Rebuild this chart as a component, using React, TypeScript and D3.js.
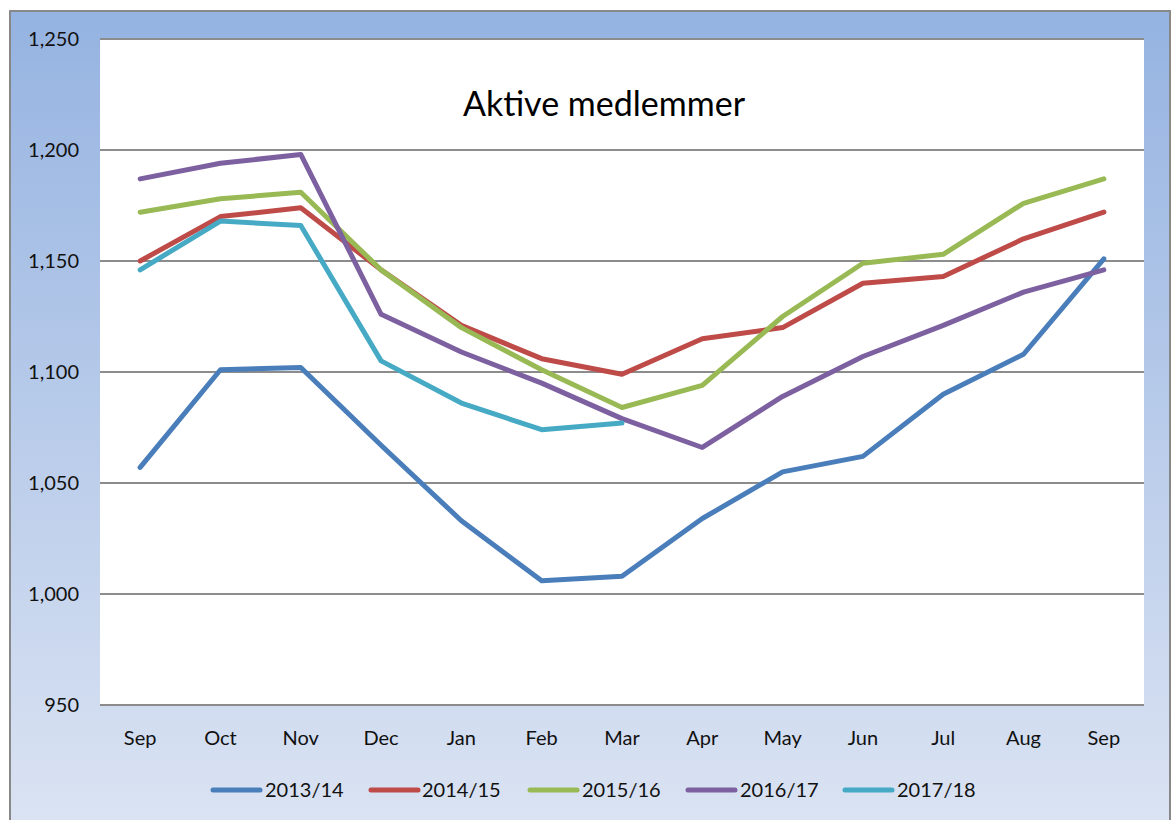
import React from "react";
import * as d3 from "d3";

const months = ["Sep", "Oct", "Nov", "Dec", "Jan", "Feb", "Mar", "Apr", "May", "Jun", "Jul", "Aug", "Sep"];
const monthKeys = months.map((m, i) => `${m}-${i}`);
const seriesNames = ["2013/14", "2014/15", "2015/16", "2016/17", "2017/18"];
const seriesColors = ["#4A7EBB", "#BE4B48", "#98B954", "#7D60A0", "#46AAC5"];
const s2013: number[] = [1057, 1101, 1102, 1067, 1033, 1006, 1008, 1034, 1055, 1062, 1090, 1108, 1151];
const s2014: number[] = [1150, 1170, 1174, 1146, 1121, 1106, 1099, 1115, 1120, 1140, 1143, 1160, 1172];
const s2015: number[] = [1172, 1178, 1181, 1146, 1120, 1101, 1084, 1094, 1125, 1149, 1153, 1176, 1187];
const s2016: number[] = [1187, 1194, 1198, 1126, 1109, 1095, 1079, 1066, 1089, 1107, 1121, 1136, 1146];
const s2017: number[] = [1146, 1168, 1166, 1105, 1086, 1074, 1077];
const seriesValues = [s2013, s2014, s2015, s2016, s2017];
const yTicks = [950, 1000, 1050, 1100, 1150, 1200, 1250];

const W = 1171, H = 820;
const plot = { left: 100, right: 1144, top: 39, bottom: 705 };
const FONT = "Lato, 'Open Sans', sans-serif";

export default function App() {
  const x = d3.scaleBand<string>().domain(monthKeys).range([plot.left, plot.right]);
  const y = d3.scaleLinear().domain([950, 1250]).range([plot.bottom, plot.top]);
  const line = d3
    .line<number>()
    .x((_, i) => (x(monthKeys[i]) as number) + x.bandwidth() / 2)
    .y((d) => y(d));
  const fmt = d3.format(",");

  const legendItems = [
    { lx: 213, tx: 265 },
    { lx: 371, tx: 422 },
    { lx: 530, tx: 582 },
    { lx: 688, tx: 740 },
    { lx: 845, tx: 897 },
  ];

  return (
    <div style={{ position: "fixed", left: 0, top: 0 }}>
      <svg width={W} height={H} style={{ display: "block" }}>
        <defs>
          <linearGradient id="bg" x1="0" y1="0" x2="0" y2="1">
            <stop offset="0" stopColor="#95B3E1" />
            <stop offset="1" stopColor="#DCE4F3" />
          </linearGradient>
        </defs>
        <rect x={0} y={0} width={W} height={H} fill="#fff" />
        <rect x={10} y={11} width={1160} height={830} fill="url(#bg)" stroke="#888" strokeWidth={2} />
        <rect x={plot.left} y={plot.top} width={plot.right - plot.left} height={plot.bottom - plot.top} fill="#fff" />
        {yTicks.map((t) => (
          <g key={t}>
            <line x1={plot.left} x2={plot.right} y1={y(t)} y2={y(t)} stroke="#8c8c8c" strokeWidth={2} />
            <text x={79} y={y(t)} dy="0.35em" textAnchor="end" fontFamily={FONT} fontSize={20} fill="#111">
              {fmt(t)}
            </text>
          </g>
        ))}
        {monthKeys.map((k, i) => (
          <text
            key={k}
            x={(x(k) as number) + x.bandwidth() / 2}
            y={745}
            textAnchor="middle"
            fontFamily={FONT}
            fontSize={20}
            fill="#111"
          >
            {months[i]}
          </text>
        ))}
        <text x={604} y={116} textAnchor="middle" fontFamily={FONT} fontSize={34} fill="#000">
          Aktive medlemmer
        </text>
        {seriesValues.map((vals, si) => (
          <path
            key={seriesNames[si]}
            d={line(vals) || ""}
            fill="none"
            stroke={seriesColors[si]}
            strokeWidth={5}
            strokeLinejoin="round"
            strokeLinecap="round"
          />
        ))}
        {seriesNames.map((n, i) => (
          <g key={n}>
            <line
              x1={legendItems[i].lx}
              x2={legendItems[i].lx + 47}
              y1={790}
              y2={790}
              stroke={seriesColors[i]}
              strokeWidth={5}
              strokeLinecap="round"
            />
            <text x={legendItems[i].tx} y={790} dy="0.35em" fontFamily={FONT} fontSize={20} fill="#111">
              {n}
            </text>
          </g>
        ))}
      </svg>
    </div>
  );
}
